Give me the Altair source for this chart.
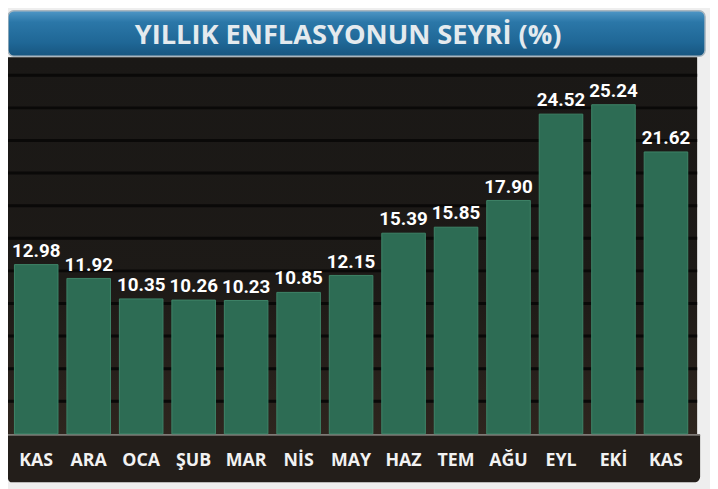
import json
import altair as alt
import pandas as pd

TITLE = "YILLIK ENFLASYONUN SEYRİ (%)"
MONTHS = ["KAS", "ARA", "OCA", "ŞUB", "MAR", "NİS", "MAY", "HAZ", "TEM", "AĞU", "EYL", "EKİ", "KAS"]
VALUES = [12.98, 11.92, 10.35, 10.26, 10.23, 10.85, 12.15, 15.39, 15.85, 17.90, 24.52, 25.24, 21.62]
GRID = [2.5, 5.0, 7.5, 10.0, 12.5, 15.0, 17.5, 20.0, 22.5, 25.0, 27.5]

HUMAN = "Open Sans, Roboto, sans-serif"
NUM = "Roboto, Open Sans, sans-serif"

df = pd.DataFrame({"idx": list(range(len(MONTHS))), "month": MONTHS, "value": VALUES})
grid_df = pd.DataFrame({"g": GRID})
one = alt.Data(values=[{"a": 1}])

W, H = 690, 378
YDOM = [0, 28.66]
yscale = alt.Scale(domain=YDOM, nice=False, zero=True)

label_expr = json.dumps(MONTHS, ensure_ascii=False) + "[datum.value]"

xenc = alt.X(
    "idx:O",
    sort=None,
    title=None,
    scale=alt.Scale(paddingInner=0.17, paddingOuter=0.085),
    axis=alt.Axis(
        labelExpr=label_expr,
        ticks=False,
        domain=False,
        grid=False,
        labelAngle=0,
        labelFont=HUMAN,
        labelFontSize=18,
        labelFontWeight="bold",
        labelColor="#f2f2f2",
        labelPadding=27,
        labelBaseline="middle",
        zindex=1,
    ),
)

panel = alt.Chart(one).mark_rect(
    fill=alt.Gradient(
        gradient="linear",
        stops=[
            alt.GradientStop(color="#1a1816", offset=0),
            alt.GradientStop(color="#1d1a17", offset=0.6),
            alt.GradientStop(color="#2e251e", offset=1),
        ],
        x1=0, x2=0, y1=0, y2=1,
    )
).encode(x=alt.value(-2), x2=alt.value(695), y=alt.value(-3), y2=alt.value(379))

strip = alt.Chart(one).mark_rect(
    fill="#231e1a", cornerRadiusBottomLeft=4, cornerRadiusBottomRight=6
).encode(x=alt.value(-2), x2=alt.value(698), y=alt.value(379), y2=alt.value(427))

baseline = alt.Chart(one).mark_rule(color="#7e7a76", strokeWidth=2).encode(
    x=alt.value(-2), x2=alt.value(698), y=alt.value(379)
)

banner = alt.Chart(one).mark_rect(
    cornerRadius=6,
    stroke="#a9b6bf",
    strokeWidth=1.5,
    fill=alt.Gradient(
        gradient="linear",
        stops=[
            alt.GradientStop(color="#4f97c6", offset=0),
            alt.GradientStop(color="#2b77a8", offset=0.25),
            alt.GradientStop(color="#1f6796", offset=0.7),
            alt.GradientStop(color="#17557f", offset=1),
        ],
        x1=0, x2=0, y1=0, y2=1,
    ),
).encode(x=alt.value(-2), x2=alt.value(703), y=alt.value(-50), y2=alt.value(-4))

title = alt.Chart(one).mark_text(
    text=TITLE,
    font=HUMAN,
    fontSize=27.5,
    fontWeight="bold",
    color="#e4eaee",
    align="center",
    baseline="alphabetic",
).encode(x=alt.value(342), y=alt.value(-16))

grid = alt.Chart(grid_df).mark_rule(color="#0a0908", strokeWidth=3).encode(
    y=alt.Y("g:Q", scale=yscale, axis=None), x=alt.value(-2), x2=alt.value(695)
)

bars = alt.Chart(df).mark_bar(
    color="#2d6c54", stroke="#3f8568", strokeWidth=1
).encode(
    x=xenc,
    y=alt.Y("value:Q", scale=yscale, axis=None),
)

labels = alt.Chart(df).mark_text(
    font=NUM,
    fontSize=19,
    fontWeight="bold",
    color="#ffffff",
    baseline="alphabetic",
    dy=-8,
).encode(
    x=alt.X("idx:O", sort=None),
    y=alt.Y("value:Q", scale=yscale, axis=None),
    text=alt.Text("value:Q", format=".2f"),
)

chart = (
    alt.layer(panel, strip, baseline, banner, title, grid, bars, labels)
    .properties(
        width=W,
        height=H,
        autosize=alt.AutoSizeParams(type="none"),
        padding={"left": 2, "top": 50, "right": 18, "bottom": 53},
        background="#eeeeee",
    )
    .configure_view(stroke=None)
)

chart.save("out.html", embed_options={"renderer": "svg", "actions": False})
